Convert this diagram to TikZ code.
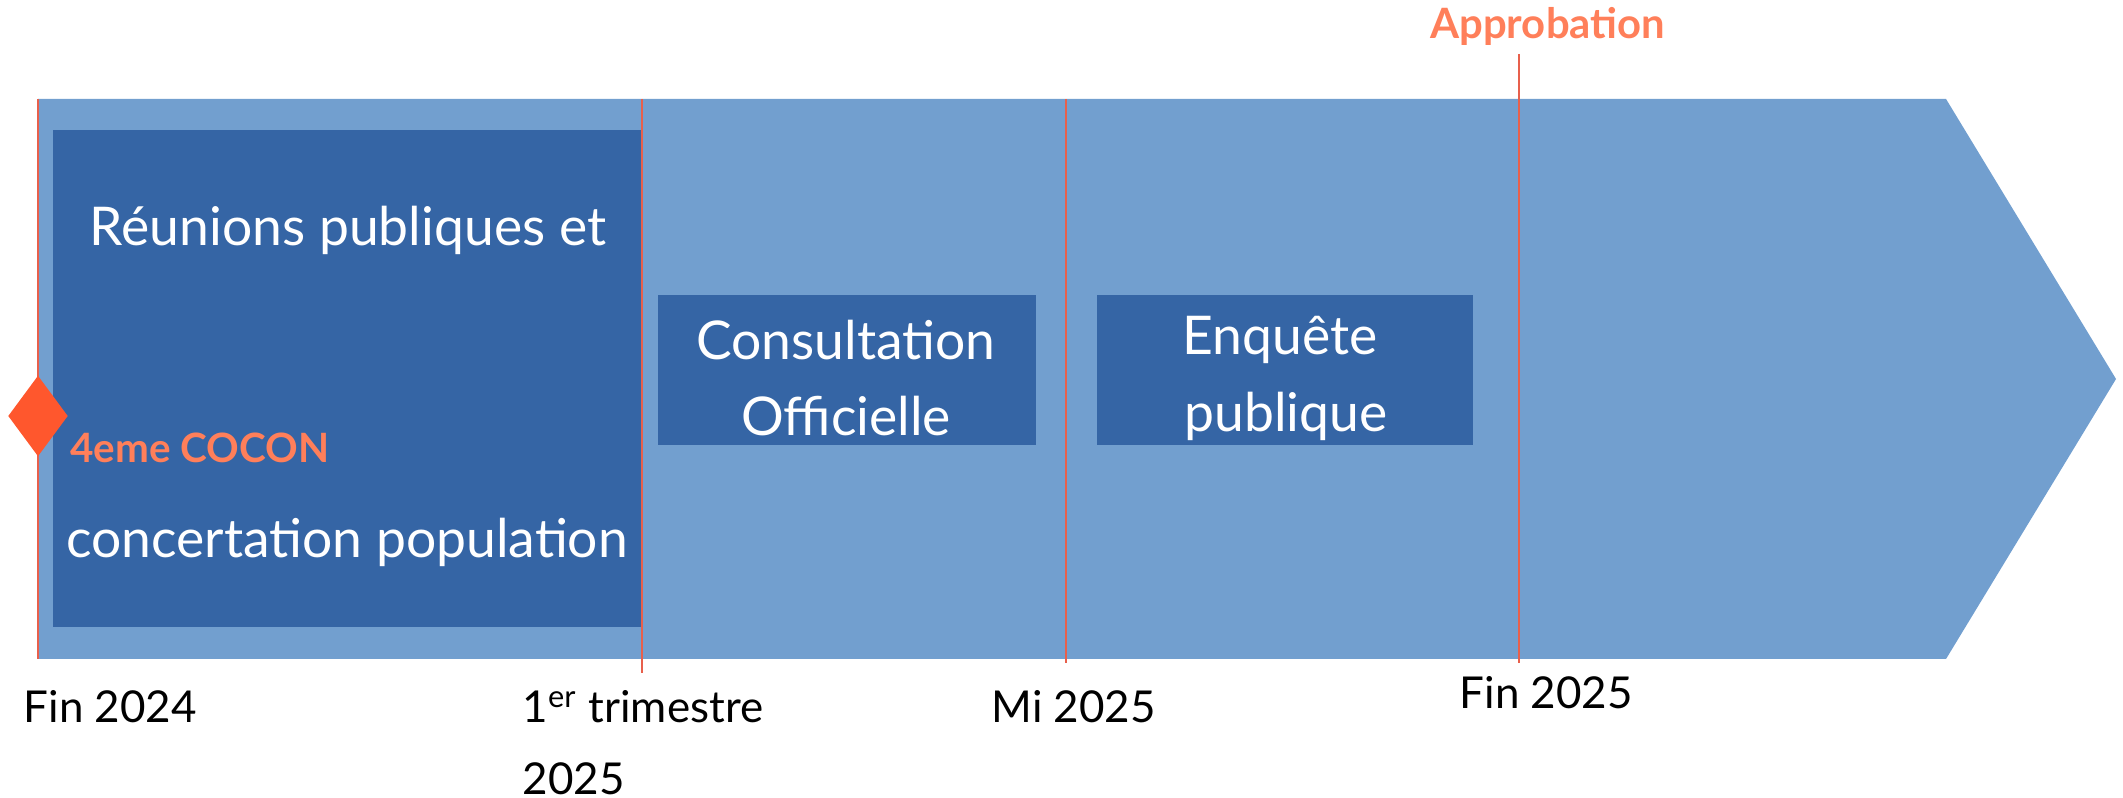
\documentclass[tikz,border=0pt]{standalone}
\usepackage{fontspec}
\setmainfont{Lato}
\usetikzlibrary{shapes.geometric}
\definecolor{barblue}{RGB}{114,159,207}
\definecolor{boxblue}{RGB}{53,101,165}
\definecolor{tickred}{RGB}{232,96,76}
\definecolor{diamondred}{RGB}{255,87,45}
\definecolor{labelorange}{RGB}{255,127,90}

\begin{document}
\begin{tikzpicture}[
    phase/.style={fill=boxblue, inner sep=0pt},
    phasetext/.style={text=white, font=\fontsize{15.2}{18}\selectfont},
    datelabel/.style={anchor=west, inner sep=0pt, font=\fontsize{12.5}{15}\selectfont},
    milestone/.style={text=labelorange, font=\bfseries\fontsize{11.5}{14}\selectfont},
    tick/.style={draw=tickred, line width=0.5pt}]
    \useasboundingbox (0,0) rectangle (21.23,-7.98);

    % Timeline arrow
    \fill[barblue] (0.38,-0.99) -- (19.46,-0.99) -- (21.16,-3.79) -- (19.46,-6.59) -- (0.38,-6.59) -- cycle;

    % Phases
    \node[phase, minimum width=5.89cm, minimum height=4.97cm] (reunions) at (3.475,-3.785) {};
    \node[phase, minimum width=3.78cm, minimum height=1.50cm] (consultation) at (8.47,-3.70) {};
    \node[phase, minimum width=3.76cm, minimum height=1.50cm] (enquete) at (12.85,-3.70) {};

    \node[phasetext] (reunionsA) at (3.48,-2.30) {Réunions publiques et};
    \node[phasetext] (reunionsB) at (3.47,-5.42) {concertation population};
    \node[phasetext] (consultA) at (8.46,-3.40) {Consultation};
    \node[phasetext] (consultB) at (8.46,-4.16) {Officielle};
    \node[phasetext] (enqueteA) at (12.80,-3.40) {Enquête};
    \node[phasetext] (enqueteB) at (12.86,-4.16) {publique};

    % Ticks
    \coordinate (fin24top) at (0.38,-0.99);
    \coordinate (fin24bot) at (0.38,-6.59);
    \coordinate (trimtop) at (6.42,-0.99);
    \coordinate (trimbot) at (6.42,-6.73);
    \coordinate (mitop) at (10.66,-0.99);
    \coordinate (mibot) at (10.66,-6.63);
    \coordinate (fin25top) at (15.19,-0.54);
    \coordinate (fin25bot) at (15.19,-6.63);
    \draw[tick] (fin24top) -- (fin24bot);
    \draw[tick] (trimtop) -- (trimbot);
    \draw[tick] (mitop) -- (mibot);
    \draw[tick] (fin25top) -- (fin25bot);

    % Milestones
    \node[diamond, fill=diamondred, inner sep=0pt, minimum width=0.60cm, minimum height=0.81cm] (cocon) at (0.38,-4.16) {};
    \node[milestone, anchor=west] (coconlabel) at (0.58,-4.48) {4eme COCON};
    \node[milestone, anchor=west, font=\bfseries\fontsize{11.9}{14}\selectfont] (approbation) at (14.18,-0.26) {Approbation};

    % Dates
    \node[datelabel] (fin24) at (0.23,-7.07) {Fin 2024};
    \node[datelabel] (trimA) at (5.22,-7.07) {1\textsuperscript{er} trimestre};
    \node[datelabel] (trimB) at (5.22,-7.79) {2025};
    \node[datelabel] (mi25) at (9.91,-7.07) {Mi 2025};
    \node[datelabel] (fin25) at (14.59,-6.93) {Fin 2025};
\end{tikzpicture}
\end{document}
